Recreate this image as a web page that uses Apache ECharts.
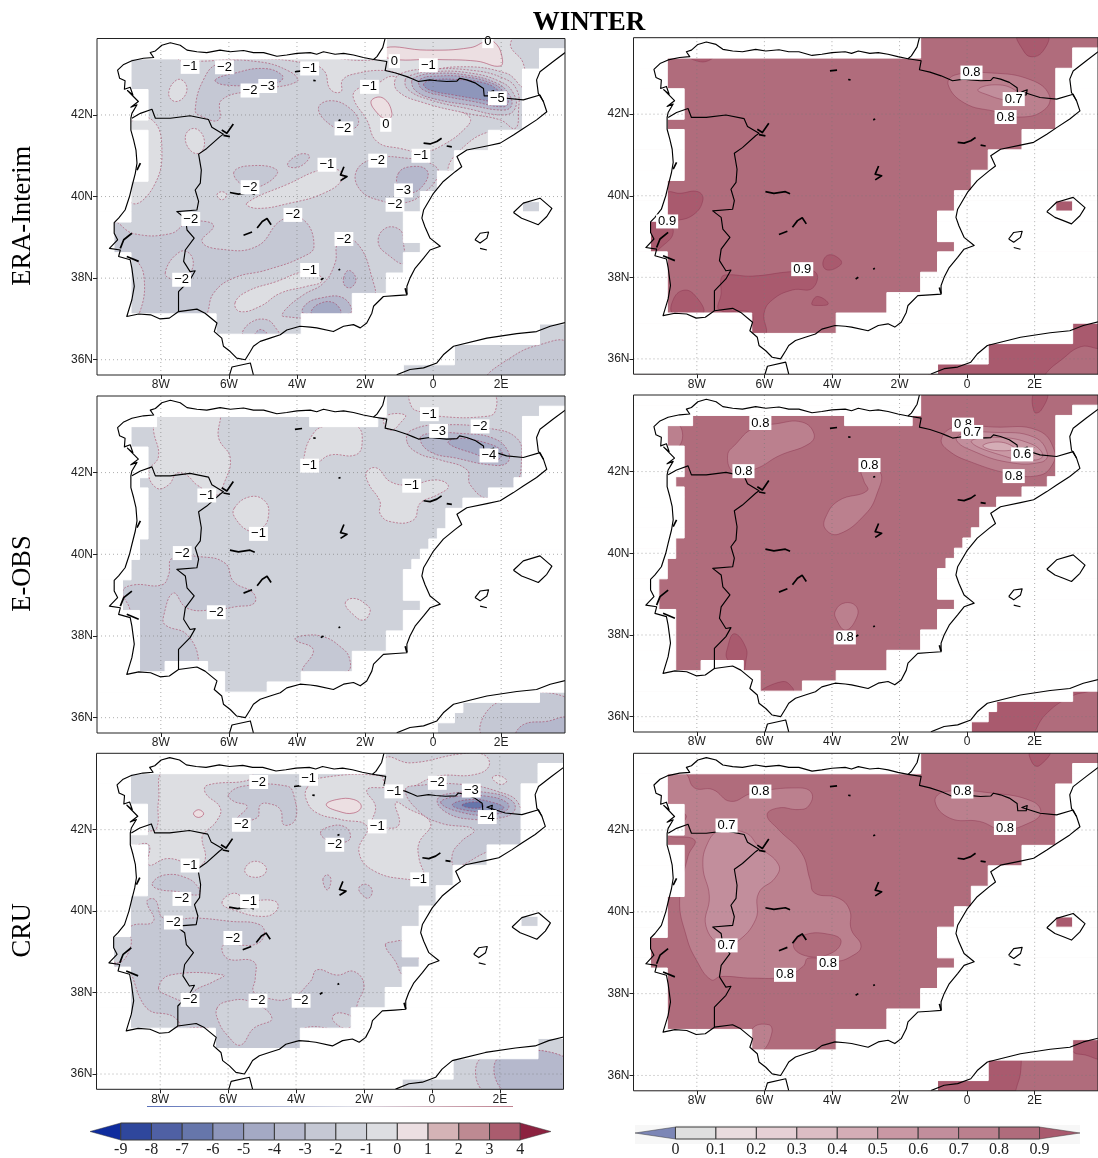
<!DOCTYPE html>
<html><head><meta charset="utf-8">
<style>html,body{margin:0;padding:0;background:#fff;overflow:hidden}#c{width:1098px;height:1158px}</style>
<script src="https://cdn.jsdelivr.net/npm/echarts@6/dist/echarts.min.js"></script></head>
<body><div id="c"></div>
<script>
const lonTicks=[-8,-6,-4,-2,0,2], lonTickLabels=['8W','6W','4W','2W','0','2E'];
const latTicks=[36,38,40,42], latTickLabels=['36N','38N','40N','42N'];
const lonRange=[-9.875,3.875], latRange=[35.625,43.875];
const tempLevels=[-9,-8,-7,-6,-5,-4,-3,-2,-1,0,1,2,3,4];
const tempColors=['#0f2c9e','#2f479c','#4f60a4','#6676ab','#8e96bb','#a4a9c4','#b5b8cc','#c5c8d4','#cfd2da','#dddee2','#ecdfe2','#d4b3b6','#bd8a92','#aa5c6e','#8c2240'];
const corrLevels=[0,0.1,0.2,0.3,0.4,0.5,0.6,0.7,0.8,0.9];
const corrColors=['#7c86b6','#dfdfdf','#e9dcde','#e6d0d5','#dcbdc4','#d4adb6','#c998a4','#c28e9c','#bb808e','#b06c7c','#a95a6e'];
const rowNames=['ERA-Interim','E-OBS','CRU'];

/* coast, borders and lakes: flat lon,lat lists */
const coastIberia=[-1.41,43.88,-1.48,43.65,-1.65,43.43,-1.75,43.36,-2.05,43.41,-2.34,43.47,-2.63,43.51,-2.88,43.49,-3.22,43.55,-3.42,43.49,-3.61,43.53,-4.00,43.51,-4.30,43.47,-4.59,43.44,-4.98,43.53,-5.28,43.53,-5.57,43.58,-5.96,43.55,-6.26,43.59,-6.65,43.53,-6.94,43.55,-7.23,43.59,-7.43,43.71,-7.72,43.77,-7.97,43.71,-8.16,43.57,-8.31,43.53,-8.21,43.41,-8.51,43.39,-8.85,43.33,-9.09,43.24,-9.27,43.10,-9.21,42.90,-9.05,42.84,-9.07,42.63,-8.90,42.68,-8.82,42.49,-8.98,42.60,-8.66,42.33,-8.88,42.19,-8.70,42.25,-8.85,42.04,-8.88,41.92,-8.88,41.63,-8.80,41.39,-8.73,41.14,-8.70,40.82,-8.75,40.57,-8.85,40.24,-8.92,40.00,-9.05,39.67,-9.24,39.47,-9.37,39.36,-9.37,39.10,-9.27,38.94,-9.51,38.73,-9.19,38.69,-9.24,38.53,-8.90,38.45,-8.85,38.24,-8.78,37.80,-8.85,37.47,-9.00,37.06,-8.65,37.12,-8.30,37.10,-8.02,37.00,-7.75,37.02,-7.48,37.18,-6.94,37.24,-6.70,37.14,-6.35,36.90,-6.43,36.69,-6.21,36.53,-6.16,36.33,-5.96,36.20,-5.77,36.04,-5.52,36.00,-5.37,36.20,-5.28,36.33,-5.08,36.45,-4.79,36.53,-4.49,36.61,-4.30,36.73,-3.91,36.82,-3.61,36.80,-3.42,36.78,-2.93,36.69,-2.63,36.82,-2.34,36.86,-2.14,36.78,-1.95,36.90,-1.80,37.14,-1.75,37.31,-1.46,37.55,-1.10,37.57,-0.77,37.59,-0.77,37.80,-0.68,38.00,-0.53,38.24,-0.28,38.49,-0.09,38.69,0.21,38.78,-0.09,38.98,-0.24,39.26,-0.33,39.47,-0.28,39.67,0.01,40.08,0.30,40.37,0.65,40.61,0.84,40.73,0.70,40.98,0.99,41.14,1.58,41.24,1.97,41.31,2.36,41.51,2.65,41.67,3.04,41.88,3.34,42.08,3.24,42.33,3.09,42.53,3.04,42.86,3.14,43.06,3.53,43.31,3.88,43.53];
const borderPyrenees=[-1.75,43.36,-1.36,43.31,-1.41,43.09,-1.10,43.03,-0.77,42.94,-0.60,42.88,-0.43,42.82,-0.10,42.86,0.11,42.84,0.40,42.82,0.70,42.83,0.78,42.90,0.99,42.86,1.25,42.78,1.48,42.65,1.50,42.47,1.75,42.47,1.78,42.60,1.62,42.55,2.16,42.41,2.65,42.37,3.14,42.49,3.24,42.33];
const borderPortugal=[-8.85,41.92,-8.60,42.04,-8.26,42.14,-8.16,41.92,-7.72,41.92,-7.14,41.98,-6.60,41.89,-6.50,41.70,-6.16,41.53,-6.26,41.47,-6.65,41.18,-6.89,41.04,-6.81,40.65,-6.84,40.33,-6.99,40.16,-6.89,39.88,-6.94,39.67,-7.53,39.63,-7.28,39.47,-7.23,39.18,-7.02,38.98,-7.28,38.69,-7.33,38.41,-7.14,38.16,-6.99,38.18,-7.14,37.96,-7.48,37.67,-7.48,37.18];
const coastMallorca=[2.36,39.61,2.65,39.84,3.14,39.96,3.49,39.71,3.34,39.51,3.09,39.31,2.85,39.39,2.60,39.47,2.36,39.61];
const coastIbiza=[1.23,38.94,1.38,39.10,1.63,39.13,1.58,38.98,1.38,38.86,1.23,38.94];
const coastFormentera=[1.38,38.73,1.58,38.69];
const coastAfrica=[-1.07,35.63,-0.68,35.76,-0.28,35.80,0.11,35.92,0.30,36.12,0.60,36.33,1.58,36.53,2.46,36.64,3.04,36.69,3.44,36.82,3.88,36.91];
const coastCeuta=[-5.98,35.63,-5.91,35.82,-5.37,35.92,-5.28,35.63];
const lakes=[[-6.21,41.63,-6.06,41.55,-5.87,41.78],[-6.16,41.50,-5.97,41.47],[-4.06,43.06,-3.85,43.08],[-3.52,42.85,-3.45,42.84],[-2.78,41.86,-2.72,41.88],[-0.28,41.31,-0.09,41.29,0.11,41.35,0.25,41.43],[0.40,41.24,0.55,41.22],[-2.62,40.73,-2.72,40.53,-2.53,40.49,-2.72,40.39],[-5.97,40.10,-5.72,40.06,-5.38,40.10,-5.24,40.05],[-5.57,39.05,-5.32,39.13],[-5.17,39.23,-5.02,39.39,-4.88,39.46,-4.76,39.31],[-3.30,37.96,-3.22,38.00],[-2.78,38.20,-2.73,38.22],[-9.19,38.73,-9.09,38.94,-8.85,39.10],[-9.00,38.53,-8.65,38.41],[-8.70,40.65,-8.60,40.82],[-0.77,37.60,-0.82,37.75]];

/* data coverage: [lat top, lat bottom, [lon from, lon to, ...]] */
const eraCruCover=[[43.875,43.625,[-1.375,3.875]],[43.625,43.375,[-1.375,3.125]],[43.375,43.125,[-8.875,3.125]],[43.125,42.625,[-8.875,2.625]],[42.625,41.875,[-8.375,2.625]],[41.875,41.625,[-8.875,2.625]],[41.625,41.125,[-8.375,1.625]],[41.125,40.625,[-8.375,0.625]],[40.625,40.375,[-8.375,0.125]],[40.375,40.125,[-8.875,0.125]],[40.125,39.875,[-8.875,-0.375]],[39.875,39.625,[-8.875,-0.375,2.625,3.125]],[39.625,39.375,[-8.875,-0.875]],[39.375,38.875,[-9.375,-0.875]],[38.875,38.625,[-9.375,-0.375]],[38.625,38.125,[-8.875,-0.875]],[38.125,37.625,[-8.875,-1.375]],[37.625,37.125,[-8.875,-2.375]],[37.125,36.875,[-6.375,-3.875]],[36.875,36.625,[-6.375,-3.875,3.125,3.875]],[36.625,36.375,[3.125,3.875]],[36.375,35.875,[0.625,3.875]],[35.875,35.625,[-0.875,3.875]]];
const eobsCover=[[43.875,43.625,[-1.375,3.875]],[43.625,43.375,[-1.375,3.125]],[43.375,43.125,[-8.125,-3.625,-1.625,2.625]],[43.125,42.625,[-8.875,2.625]],[42.625,41.875,[-8.375,2.625]],[41.875,41.625,[-8.625,2.375]],[41.625,41.375,[-8.375,1.625]],[41.375,41.125,[-8.375,0.875]],[41.125,40.625,[-8.375,0.375]],[40.625,40.375,[-8.375,0.125]],[40.375,40.125,[-8.625,-0.125]],[40.125,39.875,[-8.625,-0.375]],[39.875,39.625,[-8.875,-0.625]],[39.625,39.375,[-8.875,-0.875]],[39.375,38.875,[-9.125,-0.875]],[38.875,38.625,[-9.125,-0.375]],[38.625,38.125,[-8.625,-0.875]],[38.125,37.625,[-8.625,-1.375]],[37.625,37.375,[-8.625,-2.375]],[37.375,37.125,[-8.625,-7.875,-6.625,-2.375]],[37.125,36.875,[-6.125,-3.875]],[36.875,36.625,[-6.125,-4.875]],[36.625,36.375,[3.125,3.875]],[36.375,36.125,[0.875,3.875]],[36.125,35.875,[0.625,3.875]],[35.875,35.625,[0.125,3.875]]];

/* filled contours: [lower level, flat lon,lat outline], painted in order */
const eraTempBands=[
[-1,[-7.43,43.33,-5.18,43.38,-3.81,43.28,-3.22,43.10,-3.02,42.63,-2.71,42.57,-2.66,42.86,-2.24,43.02,-1.41,43.09,-0.77,42.98,0.70,43.18,2.16,43.02,2.65,42.69,2.65,43.26,2.28,43.67,2.28,43.95,-1.46,43.95,-1.46,43.39,-4.2,43.51,-7.43,43.51]],
[-1,[-2.24,42.63,-1.75,42.73,-1.12,42.94,-0.28,42.45,0.70,42.12,1.09,41.92,0.94,41.67,0.30,41.27,-0.28,41.10,-0.97,41.18,-1.65,41.35,-1.95,41.88,-2.34,42.41]],
[-1,[1.67,41.59,0.70,41.06,0.45,40.61,0.89,40.61,1.97,41.31]],
[-1,[-8.85,41.84,-8.26,41.88,-7.97,41.22,-8.21,40.25,-8.85,39.84,-9.2,40.8]],
[0,[-1.41,43.65,-0.19,43.59,1.09,43.65,1.58,43.81,1.82,43.77,2.02,43.44,1.97,43.20,1.28,43.32,0.11,43.36,-1.36,43.40]],
[0,[-1.80,42.37,-1.46,42.41,-1.21,42.04,-1.36,41.89,-1.75,42.16]],
[-2,[-1.12,42.86,-1.02,42.57,-0.28,42.30,0.99,42.04,1.97,41.88,2.41,41.67,2.51,42.12,2.46,42.61,2.07,42.90,1.09,43.10,-0.19,43.12,-0.87,43.04]],
[-3,[-0.82,42.86,-0.72,42.61,-0.09,42.37,0.99,42.16,2.07,42.00,2.41,42.16,2.36,42.53,1.97,42.82,0.99,43.04,-0.09,43.06,-0.63,42.98]],
[-4,[-0.63,42.82,-0.48,42.57,0.11,42.38,1.09,42.24,2.07,42.12,2.31,42.24,2.21,42.53,1.87,42.78,0.99,42.98,0.01,43.02,-0.48,42.94]],
[-5,[-0.43,42.79,-0.28,42.61,0.30,42.47,1.18,42.33,2.07,42.20,2.21,42.33,2.07,42.57,1.72,42.78,0.89,42.94,0.01,42.95,-0.33,42.90]],
[-6,[-0.28,42.76,-0.09,42.61,0.60,42.49,1.38,42.38,2.02,42.30,2.07,42.41,1.87,42.63,1.48,42.79,0.70,42.87,0.01,42.86]],
[-3,[-6.99,42.12,-6.75,42.86,-6.30,43.26,-5.18,43.31,-4.20,43.06,-4.00,42.82,-5.18,42.61,-6.21,42.37,-6.30,41.88,-6.84,41.98]],
[-4,[-6.40,42.86,-5.86,43.02,-4.98,43.14,-4.44,42.98,-4.49,42.82,-5.08,42.74,-6.16,42.74]],
[-1,[-7.77,42.53,-7.53,42.86,-7.28,42.78,-7.28,42.49,-7.58,42.33]],
[-1,[-7.28,41.47,-7.04,41.67,-6.75,41.47,-6.80,41.10,-7.09,41.10]],
[-3,[-3.37,42.16,-3.02,42.35,-2.44,42.16,-2.19,41.80,-2.53,41.63,-3.02,41.76]],
[-3,[-5.86,40.57,-5.47,40.75,-4.59,40.65,-4.88,40.33,-5.47,40.24]],
[-3,[-4.28,40.78,-3.91,41.04,-3.63,40.98,-3.96,40.72]],
[-1,[-6.35,40.04,-6.21,40.12,-6.06,40.04,-6.21,39.92]],
[-3,[-2.24,40.65,-2.14,40.16,-1.46,39.88,-0.87,39.84,-0.28,40.08,0.16,40.57,-0.09,40.82,-0.77,40.94,-1.65,40.94]],
[-4,[-1.02,40.57,-0.68,40.73,-0.19,40.65,-0.24,40.33,-0.68,40.08,-1.02,40.24]],
[-1,[-5.47,39.84,-4.20,40.33,-3.32,40.65,-2.78,40.65,-2.68,40.41,-3.22,40.08,-4.20,39.84,-5.18,39.71]],
[-3,[-9.37,39.35,-8.80,39.09,-7.72,39.09,-7.23,39.35,-6.70,39.39,-6.45,39.27,-6.79,38.90,-6.26,38.71,-5.18,38.78,-4.44,39.43,-3.81,39.43,-3.50,38.78,-3.81,38.53,-4.89,38.20,-5.86,38.00,-6.45,37.63,-6.70,37.06,-7.14,36.90,-9.00,36.90,-9.49,38.45]],
[-2,[-7.87,38.12,-7.43,38.65,-7.09,38.53,-7.14,38.12,-7.53,37.96]],
[-2,[-8.88,38.45,-8.51,38.12,-8.65,37.10,-9.00,37.06]],
[-1,[-5.82,37.39,-5.47,37.67,-4.59,37.92,-3.81,38.16,-3.42,38.12,-3.27,37.92,-3.71,37.80,-4.49,37.63,-5.08,37.31,-5.67,37.18]],
[-3,[-2.78,38.86,-2.24,38.86,-1.75,37.88,-1.75,37.55,-2.34,37.31,-2.44,37.06,-4.40,37.06,-4.35,37.22,-3.81,37.59,-3.22,37.88,-2.88,38.37]],
[-4,[-3.81,37.14,-3.76,37.34,-3.32,37.51,-2.63,37.51,-2.44,37.14]],
[-5,[-3.56,37.12,-3.42,37.34,-2.93,37.40,-2.73,37.12]],
[-4,[-2.63,38.00,-2.48,38.19,-2.27,38.00,-2.39,37.78,-2.58,37.80]],
[-3,[-5.57,36.61,-5.38,36.90,-4.89,36.98,-4.59,36.74,-4.54,36.61]],
[-4,[-5.23,36.61,-5.08,36.74,-4.89,36.64]],
[-3,[-1.61,38.86,-1.41,39.22,-0.97,39.18,-0.87,38.86,-0.87,38.37,-1.26,38.53]],
[-3,[1.63,35.55,2.26,36.04,3.14,36.37,3.95,36.41,3.95,35.55]]];
const eraCorrBands=[
[0.7,[-0.56,42.72,-0.36,42.96,0.72,43.01,1.89,42.84,2.43,42.47,2.29,42.11,1.60,41.93,0.81,42.07,-0.07,42.27]],
[0.6,[0.32,42.60,0.81,42.72,1.40,42.60,1.65,42.31,1.11,42.35,0.62,42.47]],
[0.9,[1.50,43.95,2.38,43.95,2.24,43.54,1.89,43.41,1.65,43.58]],
[0.9,[-8.21,43.40,-7.53,43.40,-7.82,43.28]],
[0.9,[-8.88,40.06,-8.50,40.06,-7.97,40.10,-7.82,39.90,-8.11,39.53,-8.70,39.37,-8.90,39.33]],
[0.9,[-9.40,39.37,-8.90,39.37,-8.70,39.10,-9.00,38.78,-9.40,38.60]],
[0.9,[-8.70,37.45,-8.41,37.68,-8.07,37.57,-7.82,37.12,-8.70,37.12]],
[0.9,[-7.28,37.98,-7.13,38.06,-6.35,38.03,-5.17,38.14,-4.48,38.12,-4.58,37.73,-5.17,37.69,-5.76,37.45,-6.01,37.12,-5.96,36.60,-6.35,36.60,-6.40,37.12,-7.33,37.20,-7.28,37.61]],
[0.9,[-4.27,38.35,-4.09,38.55,-3.75,38.43,-3.75,38.30,-4.14,38.18]],
[0.9,[-4.60,37.35,-4.43,37.53,-4.11,37.35,-4.48,37.31]],
[0.9,[2.50,40.00,3.30,40.00,3.30,39.50,2.50,39.50]],
[0.9,[-1.00,35.50,-1.00,36.00,0.50,36.50,3.20,37.00,4.00,37.00,4.00,36.30,3.37,36.30,2.78,35.97,2.34,35.65,2.30,35.50]]];
const eobsTempBands=[
[-1,[-8.14,43.50,-6.35,43.50,-6.30,42.84,-5.96,42.35,-6.16,41.70,-6.35,41.45,-6.94,41.70,-7.23,41.93,-7.53,41.98,-7.77,41.70,-8.12,41.62,-8.36,42.02,-8.07,42.39,-8.21,43.00,-8.21,43.13]],
[-1,[-3.81,42.31,-3.61,42.84,-3.22,43.13,-2.24,43.13,-2.09,42.68,-2.29,42.43,-3.02,42.43,-3.42,42.23,-3.81,42.11]],
[-1,[-1.95,42.02,-1.65,42.11,-1.26,41.78,-0.68,41.70,0.11,41.82,0.45,41.66,0.11,41.45,-0.38,41.25,-0.58,40.84,-1.26,40.80,-1.56,41.00,-1.56,41.29,-1.90,41.74]],
[-1,[-5.84,41.13,-5.37,41.41,-4.93,41.29,-4.84,40.92,-5.03,40.64,-5.37,40.56,-5.81,40.88]],
[-1,[-2.58,38.80,-2.34,38.92,-1.95,38.76,-1.85,38.60,-2.05,38.39,-2.34,38.52]],
[-1,[-0.63,43.95,1.72,43.95,1.82,43.49,1.48,43.37,0.30,43.37,-0.38,43.49,-0.63,43.61]],
[-1,[-1.41,43.38,-0.82,43.41,-0.97,43.21,-1.21,43.04,-1.41,43.13]],
[-3,[-0.77,42.76,-0.63,43.04,0.30,43.17,1.67,43.08,2.46,42.84,2.60,42.35,2.38,41.66,1.63,41.37,1.09,41.70,0.99,42.07,0.21,42.31,-0.43,42.47]],
[-4,[-0.38,42.84,-0.09,42.96,0.79,42.96,1.77,42.84,2.21,42.51,2.16,42.23,1.67,42.19,0.70,42.35,-0.09,42.51]],
[-5,[0.45,42.72,0.70,42.84,1.58,42.72,2.02,42.51,1.87,42.31,1.18,42.47]],
[-3,[-9.12,39.09,-8.80,39.25,-7.97,39.25,-7.77,39.50,-7.67,39.90,-6.84,39.94,-6.11,39.78,-5.86,39.33,-5.28,39.05,-5.26,38.80,-5.77,38.72,-6.45,38.64,-7.23,38.68,-7.63,39.05,-7.92,38.48,-7.87,38.27,-7.23,38.03,-6.89,37.38,-7.14,37.17,-8.90,37.13,-8.90,38.60]],
[-3,[-4.05,37.91,-3.81,38.01,-3.22,37.98,-2.73,37.74,-2.46,37.46,-2.53,37.13,-3.81,37.13,-3.52,37.66]],
[-3,[1.48,35.55,1.87,36.36,3.95,36.48,3.95,35.55]],
[-4,[2.46,35.55,2.65,35.83,3.34,35.91,3.95,35.99,3.95,35.55]]];
const eobsCorrBands=[
[0.7,[-7.09,42.39,-6.84,42.68,-6.35,43.05,-5.66,43.17,-4.88,43.21,-4.53,42.92,-4.68,42.68,-5.56,42.39,-6.25,42.07,-6.89,41.98]],
[0.7,[-3.11,42.02,-2.57,41.98,-2.67,41.45,-3.01,40.96,-3.80,40.47,-4.19,40.59,-4.19,40.88,-3.80,41.29,-2.96,41.53,-3.06,41.78]],
[0.7,[-3.90,38.59,-3.60,38.79,-3.26,38.67,-3.31,38.35,-3.60,38.12,-3.85,38.35]],
[0.7,[-0.76,42.80,-0.36,43.09,0.81,43.09,2.09,43.01,2.58,42.52,2.48,42.11,2.09,41.90,1.31,41.94,0.13,42.23,-0.56,42.52]],
[0.6,[-0.31,42.76,-0.17,42.92,0.81,42.96,1.99,42.84,2.38,42.43,2.19,42.23,1.21,42.23,0.13,42.52]],
[0.5,[0.13,42.72,0.81,42.84,1.89,42.68,2.24,42.39,1.89,42.27,1.21,42.35]],
[0.4,[0.47,42.64,1.01,42.72,1.40,42.56,0.81,42.52]],
[0.9,[1.99,43.95,2.38,43.95,2.19,43.50,1.99,43.46]],
[0.9,[-7.09,37.69,-6.89,38.03,-6.55,37.69,-6.55,37.36,-6.65,37.12,-7.09,37.40]],
[0.9,[-6.10,36.60,-5.46,36.86,-5.17,36.71,-5.17,36.60]],
[0.7,[-9.00,43.17,-8.51,43.13,-8.51,42.64,-9.00,42.64]],
[0.9,[0.10,35.50,0.10,36.60,4.00,37.00,3.71,36.67,3.12,36.51,2.38,36.10,1.99,35.61,1.99,35.50]]];
const cruTempBands=[
[-1,[-7.85,43.45,-5.35,43.45,-5.35,43.23,-6.62,43.09,-6.67,42.90,-6.23,42.53,-6.35,42.20,-6.67,41.94,-6.77,41.80,-6.67,41.30,-6.87,41.10,-7.21,41.18,-7.80,41.29,-8.34,41.14,-8.34,41.63,-8.88,41.63,-8.88,41.88,-8.34,41.96,-8.10,42.04,-8.05,42.70]],
[-3,[-5.99,42.86,-5.54,43.07,-4.27,43.07,-4.07,42.86,-4.02,42.25,-4.36,42.12,-4.46,42.49,-4.76,42.63,-5.05,42.61,-5.15,42.29,-5.74,42.25,-5.44,42.57,-5.84,42.70]],
[-1,[-3.68,43.02,-3.28,43.27,-1.37,43.31,-1.32,43.07,-1.91,42.98,-1.66,42.57,-1.76,42.12,-1.42,42.04,-0.97,42.12,-1.07,42.66,-0.73,42.53,-0.04,42.16,-0.38,41.67,-0.38,41.30,-0.24,40.81,-0.63,40.77,-1.71,40.99,-2.15,41.47,-1.91,42.08,-2.69,42.25,-3.38,42.41,-3.68,42.70]],
[-1,[-1.37,43.76,-0.63,43.64,0.85,43.86,1.53,43.84,1.68,43.56,1.24,43.35,0.16,43.31,-0.63,43.02,-0.83,42.94,-1.37,43.11]],
[0,[-3.11,42.61,-2.80,42.74,-2.30,42.74,-2.08,42.57,-2.30,42.41,-2.74,42.45]],
[0,[-7.02,42.39,-6.87,42.49,-6.72,42.39,-6.87,42.30]],
[-1,[1.78,43.27,1.97,43.33,2.20,43.20,2.03,43.11]],
[-3,[-3.28,41.92,-2.99,42.08,-2.59,42.08,-2.40,41.88,-2.50,41.71,-2.99,41.71]],
[-1,[-5.51,41.02,-5.25,41.22,-4.90,41.10,-4.95,40.89,-5.35,40.85]],
[-1,[-6.18,40.20,-5.84,40.44,-5.44,40.28,-4.61,40.24,-4.56,40.03,-4.95,39.87,-5.84,40.03]],
[-3,[-3.21,40.77,-3.08,40.89,-2.97,40.77,-3.08,40.52]],
[-3,[-2.15,40.57,-1.95,40.66,-1.76,40.52,-1.86,40.32,-2.05,40.40]],
[-3,[-8.23,40.69,-7.85,40.89,-7.21,40.81,-6.87,40.57,-6.87,40.40,-7.51,40.48,-8.10,40.55]],
[-3,[-9.36,39.09,-8.88,39.62,-8.20,39.75,-8.39,40.24,-8.15,40.28,-7.90,39.83,-6.92,39.83,-5.94,39.75,-5.05,39.66,-4.95,39.38,-5.25,39.17,-6.13,39.17,-6.03,38.84,-5.25,38.76,-5.20,38.35,-5.25,38.02,-4.85,37.86,-4.17,37.86,-3.58,38.27,-3.38,38.56,-2.79,38.43,-2.30,38.52,-2.00,38.19,-2.20,37.70,-2.30,37.12,-3.77,37.12,-3.87,36.63,-6.43,36.63,-6.53,37.12,-8.98,37.04,-9.28,38.43,-9.36,39.01]],
[-2,[-8.88,38.43,-8.39,37.61,-7.61,37.41,-7.46,37.16,-8.88,37.04]],
[-2,[-9.36,39.38,-8.88,39.38,-9.03,38.84,-9.36,38.76]],
[-2,[-8.05,38.11,-7.70,38.43,-6.13,38.43,-6.43,38.27,-7.02,38.02,-7.12,37.78,-7.80,37.94]],
[-2,[-6.33,37.61,-6.03,37.78,-5.35,37.78,-4.71,37.37,-5.25,37.12,-5.64,36.71,-6.03,36.96,-6.28,37.29]],
[-2,[-2.89,37.45,-2.60,37.49,-2.30,37.33,-2.49,37.12,-2.89,37.29]],
[-3,[-1.37,39.17,-1.12,39.25,-0.83,39.25,-0.38,38.84,-0.38,38.60,-0.83,38.43,-1.07,38.76]],
[-3,[-0.78,42.98,-0.33,43.09,0.75,43.12,1.93,42.94,2.57,42.61,2.64,41.67,1.68,41.47,0.70,41.10,0.60,41.39,0.85,41.70,1.24,42.00,0.26,42.16,-0.38,42.45]],
[-4,[0.16,42.74,0.65,42.90,1.73,42.90,2.37,42.70,2.42,42.45,2.02,42.29,1.24,42.25,0.45,42.41]],
[-5,[0.26,42.66,0.75,42.82,1.63,42.82,2.22,42.66,2.22,42.49,1.73,42.37,0.94,42.41]],
[-6,[0.60,42.61,1.14,42.74,1.83,42.66,2.12,42.53,1.73,42.45,1.04,42.47]],
[-7,[0.89,42.61,1.34,42.68,1.53,42.57,1.14,42.53]],
[-3,[1.58,35.55,1.48,36.40,3.95,36.40,3.95,35.55]],
[-4,[2.17,35.55,1.97,36.40,3.95,36.40,3.95,35.55]]];
const cruCorrBands=[
[0.7,[-8.36,43.40,-8.07,43.03,-7.53,42.99,-7.00,42.70,-6.36,42.90,-5.00,43.03,-4.60,42.90,-4.70,42.58,-5.00,42.50,-5.58,42.54,-5.92,42.37,-5.58,42.01,-4.90,41.44,-4.65,40.79,-4.51,40.46,-3.82,40.34,-3.48,40.05,-3.43,39.57,-3.14,39.16,-3.43,38.91,-3.92,38.79,-4.70,38.87,-4.85,38.67,-5.39,38.42,-6.36,38.38,-7.29,38.42,-7.58,38.34,-8.02,38.83,-8.31,39.40,-8.51,40.30,-8.26,41.36,-8.07,41.76,-8.85,41.89,-8.31,42.33,-8.88,42.62,-8.88,43.40]],
[0.6,[-7.82,41.11,-7.68,41.68,-7.34,41.97,-6.56,41.93,-6.17,41.60,-5.58,41.15,-5.68,40.83,-6.17,40.46,-6.26,39.81,-6.85,39.24,-7.24,39.16,-7.73,39.65,-7.63,40.38]],
[0.8,[-5.14,39.16,-4.80,39.44,-4.02,39.44,-3.73,39.28,-4.02,38.99,-4.70,38.91]],
[0.7,[-0.95,42.70,-0.65,42.94,0.76,42.90,1.93,42.70,2.18,42.42,1.83,42.17,1.05,42.01,0.37,42.21,-0.51,42.29]],
[0.9,[1.88,43.95,2.47,43.95,2.13,43.57,1.93,43.64]],
[0.7,[-6.36,37.14,-5.87,37.24,-5.78,37.04,-6.07,36.59,-6.41,36.59]],
[0.9,[2.50,40.00,3.30,40.00,3.30,39.50,2.50,39.50]],
[0.9,[-1.00,35.50,-1.00,36.00,0.50,36.50,1.50,36.50,1.59,36.15,1.44,35.63,1.40,35.50]],
[0.9,[3.10,37.00,4.00,37.00,4.00,36.43,3.50,36.50,3.12,36.60]]];

/* contour labels: [lon, lat, text] */
const eraTempLabels=[[-7.14,43.18,'−1'],[-6.13,43.17,'−2'],[-3.63,43.14,'−1'],[-4.86,42.71,'−3'],[-5.38,42.60,'−2'],[-1.87,42.69,'−1'],[-1.14,43.32,'0'],[-0.14,43.22,'−1'],[1.61,43.81,'0'],[-1.39,41.76,'0'],[-2.62,41.67,'−2'],[1.89,42.41,'−5'],[-0.36,41.00,'−1'],[-3.12,40.78,'−1'],[-1.63,40.88,'−2'],[-5.38,40.23,'−2'],[-0.87,40.15,'−3'],[-1.12,39.80,'−2'],[-7.12,39.45,'−2'],[-4.12,39.55,'−2'],[-2.62,38.96,'−2'],[-3.63,38.20,'−1'],[-7.39,37.96,'−2']];
const eraCorrLabels=[[0.13,43.02,'0.8'],[1.38,42.37,'0.7'],[1.14,41.93,'0.8'],[-8.88,39.37,'0.9'],[-4.88,38.20,'0.9']];
const eobsTempLabels=[[-0.11,43.43,'−1'],[1.38,43.13,'−2'],[0.16,43.02,'−3'],[1.64,42.42,'−4'],[-3.63,42.17,'−1'],[-0.63,41.68,'−1'],[-6.65,41.44,'−1'],[-5.13,40.50,'−1'],[-7.37,40.03,'−2'],[-6.37,38.58,'−2']];
const eobsCorrLabels=[[-6.12,43.19,'0.8'],[-6.62,42.01,'0.8'],[-2.89,42.16,'0.8'],[-0.12,43.15,'0.8'],[0.15,42.97,'0.7'],[1.63,42.42,'0.6'],[1.38,41.89,'0.8'],[-3.62,37.94,'0.8']];
const cruTempLabels=[[-3.63,43.25,'−1'],[-5.10,43.17,'−2'],[0.16,43.15,'−2'],[1.16,42.96,'−3'],[-1.12,42.94,'−1'],[1.63,42.31,'−4'],[-5.61,42.12,'−2'],[-1.61,42.08,'−1'],[-2.86,41.63,'−2'],[-7.12,41.12,'−1'],[-0.36,40.78,'−1'],[-7.36,40.30,'−2'],[-5.37,40.24,'−1'],[-7.61,39.72,'−2'],[-5.86,39.34,'−2'],[-7.12,37.82,'−2'],[-5.12,37.80,'−2'],[-3.85,37.80,'−2']];
const cruCorrLabels=[[-6.12,42.94,'0.8'],[-7.12,42.11,'0.7'],[-7.12,39.18,'0.7'],[-4.12,38.75,'0.8'],[-5.39,38.46,'0.8'],[-0.14,42.94,'0.8'],[1.12,42.05,'0.8']];

const tempColor=lo=>tempColors[lo+10];
const corrColor=lo=>corrColors[Math.round(lo*10)+1];
const pairs=f=>{const o=[];for(let i=0;i<f.length;i+=2)o.push([f[i],f[i+1]]);return o;};

const panels=[
 {g:[97,38.5,468,336.5],row:0,kind:'t',bands:eraTempBands,labels:eraTempLabels,cover:eraCruCover},
 {g:[633.5,37.7,467.5,336.5],row:0,kind:'c',bands:eraCorrBands,labels:eraCorrLabels,cover:eraCruCover},
 {g:[97,396,468,337],row:1,kind:'t',bands:eobsTempBands,labels:eobsTempLabels,cover:eobsCover},
 {g:[633.5,395,467.5,337],row:1,kind:'c',bands:eobsCorrBands,labels:eobsCorrLabels,cover:eobsCover},
 {g:[96.5,753.3,467,336],row:2,kind:'t',bands:cruTempBands,labels:cruTempLabels,cover:eraCruCover},
 {g:[633.5,753.3,470,337.5],row:2,kind:'c',bands:cruCorrBands,labels:cruCorrLabels,cover:eraCruCover}];

const lineSegs=[coastIberia,borderPyrenees,borderPortugal,coastMallorca,coastIbiza,coastFormentera,coastAfrica,coastCeuta];
const axisFont={fontFamily:'Liberation Sans',fontSize:12,color:'#222'};
const grids=[],xAxes=[],yAxes=[],series=[];
panels.forEach((p,i)=>{
 grids.push({left:p.g[0],top:p.g[1],width:p.g[2],height:p.g[3],show:true,backgroundColor:p.kind==='t'?tempColor(-2):corrColor(0.8),borderWidth:0});
 xAxes.push({type:'value',gridIndex:i,min:lonRange[0],max:lonRange[1],splitLine:{show:false},
  axisLine:{show:false,onZero:false},axisTick:{show:true,customValues:lonTicks,length:4,lineStyle:{color:'#222'}},
  axisLabel:{...axisFont,margin:4,customValues:lonTicks,formatter:v=>lonTickLabels[lonTicks.indexOf(v)]}});
 yAxes.push({type:'value',gridIndex:i,min:latRange[0],max:latRange[1],splitLine:{show:false},
  axisLine:{show:false,onZero:false},axisTick:{show:true,customValues:latTicks,length:4,lineStyle:{color:'#222'}},
  axisLabel:{...axisFont,margin:4,customValues:latTicks,formatter:v=>latTickLabels[latTicks.indexOf(v)]},
  ...(p.kind==='t'?{name:rowNames[p.row],nameLocation:'middle',nameRotate:90,nameGap:60,nameTextStyle:{fontFamily:'Liberation Serif',fontSize:26.5,color:'#000',padding:[0,18,0,0]}}:{})});
 const base={type:'custom',xAxisIndex:i,yAxisIndex:i,animation:false,silent:true};
 // filled contours
 series.push({...base,clip:true,z:2,data:p.bands.map((b,k)=>[b[1][0],b[1][1],k]),encode:{x:0,y:1},
  renderItem:(_,api)=>{const b=p.bands[api.value(2)];
   const pts=pairs(b[1]).map(q=>api.coord(q));
   const solid=p.kind==='c'||b[0]>=0;
   return {type:'polygon',shape:{points:pts,smooth:0.45},style:{fill:p.kind==='t'?tempColor(b[0]):corrColor(b[0]),
     stroke:p.kind==='t'?'rgba(165,50,85,0.75)':'rgba(135,45,75,0.6)',lineWidth:0.7,lineDash:solid?null:[2,1.5]}};}});
 // cells without data are blanked
 const blanks=[];p.cover.forEach(r=>{let from=lonRange[0];for(let k=0;k<r[2].length;k+=2){if(r[2][k]>from)blanks.push([from,r[2][k],r[0],r[1]]);from=r[2][k+1];}
  if(from<lonRange[1])blanks.push([from,lonRange[1],r[0],r[1]]);});
 series.push({...base,clip:true,z:3,data:blanks,encode:{x:0,y:2},
  renderItem:(_,api)=>{const a=api.coord([api.value(0),api.value(2)]),c=api.coord([api.value(1),api.value(3)]);
   return {type:'rect',shape:{x:a[0],y:a[1],width:c[0]-a[0],height:c[1]-a[1]},style:{fill:'#fff',stroke:'#fff',lineWidth:1}};}});
 // graticule
 const grat=[...lonTicks.map(v=>[v,latRange[0],v,latRange[1]]),...latTicks.map(v=>[lonRange[0],v,lonRange[1],v])];
 series.push({...base,clip:true,z:4,data:grat,encode:{x:0,y:1},
  renderItem:(_,api)=>{const a=api.coord([api.value(0),api.value(1)]),c=api.coord([api.value(2),api.value(3)]);
   return {type:'line',shape:{x1:a[0],y1:a[1],x2:c[0],y2:c[1]},style:{stroke:'rgba(120,120,120,0.6)',lineWidth:1,lineDash:[1,3]}};}});
 // coast, borders, lakes
 const segs=[...lineSegs.map(s=>[s,1.15]),...lakes.map(s=>[s,1.7])];
 series.push({...base,clip:true,z:5,data:segs.map((s,k)=>[s[0][0],s[0][1],k]),encode:{x:0,y:1},
  renderItem:(_,api)=>{const s=segs[api.value(2)];
   return {type:'polyline',shape:{points:pairs(s[0]).map(q=>api.coord(q))},style:{fill:null,stroke:'#000',lineWidth:s[1],lineJoin:'round'}};}});
 // contour labels
 series.push({...base,clip:false,z:6,data:p.labels.map((l,k)=>[l[0],l[1],k]),encode:{x:0,y:1},
  renderItem:(_,api)=>{const l=p.labels[api.value(2)],c=api.coord([l[0],l[1]]);
   return {type:'text',style:{text:l[2],x:c[0],y:c[1],fill:'#000',font:'13px "Liberation Sans"',align:'center',verticalAlign:'middle',backgroundColor:'#fff',padding:[1,2,0,2]}};}});
 // frame
 series.push({...base,clip:false,z:7,data:[[lonRange[0],latRange[0],lonRange[1],latRange[1]]],encode:{x:0,y:1},
  renderItem:(_,api)=>{const a=api.coord([api.value(0),api.value(3)]),c=api.coord([api.value(2),api.value(1)]);
   return {type:'rect',shape:{x:a[0],y:a[1],width:c[0]-a[0],height:c[1]-a[1]},style:{fill:null,stroke:'#222',lineWidth:1}};}});
});

function colorbar(idx,g,levels,colors,lo,hi,labelFont,margin,fmt){
 grids.push({left:g[0],top:g[1],width:g[2],height:g[3]});
 xAxes.push({type:'value',gridIndex:idx,min:lo,max:hi,splitLine:{show:false},axisLine:{show:false,onZero:false},axisTick:{show:false},
  axisLabel:{fontFamily:'Liberation Serif',fontSize:labelFont,color:'#222',margin,customValues:levels,formatter:fmt}});
 yAxes.push({type:'value',gridIndex:idx,min:0,max:1,show:false});
 series.push({type:'custom',xAxisIndex:idx,yAxisIndex:idx,animation:false,silent:true,clip:false,z:3,
  data:colors.map((c,k)=>[k===0?lo:levels[k-1],k]),encode:{x:0},
  renderItem:(_,api)=>{const k=api.value(1),n=colors.length;
   const st={fill:colors[k],stroke:'#3a3a3a',lineWidth:1};
   if(k===0||k===n-1){const tip=api.coord([k===0?lo:hi,0.5]),e=k===0?levels[0]:levels[n-2];
    return {type:'polygon',shape:{points:[tip,api.coord([e,1]),api.coord([e,0])]},style:{...st,lineWidth:0.5}};}
   const a=api.coord([levels[k-1],1]),c=api.coord([levels[k],0]);
   return {type:'rect',shape:{x:a[0],y:a[1],width:c[0]-a[0],height:c[1]-a[1]},style:st};}});
}
colorbar(6,[90,1123,461,17],tempLevels,tempColors,-10,5,16,2,v=>String(v));
colorbar(7,[635,1127,445,14],corrLevels,corrColors,-0.1,1.0,16,3,v=>String(+v.toFixed(1)));

const chart=echarts.init(document.getElementById('c'),null,{renderer:'canvas'});
chart.setOption({animation:false,backgroundColor:'#fff',
 title:{text:'WINTER',left:584,top:5,textAlign:'center',textStyle:{fontFamily:'Liberation Serif',fontWeight:'bold',fontSize:27,color:'#000'}},
 graphic:[{type:'rect',z:-1,silent:true,shape:{x:147,y:1106,width:366,height:1},style:{fill:new echarts.graphic.LinearGradient(0,0,1,0,[{offset:0,color:'#5a70b8'},{offset:0.55,color:'#dcdce6'},{offset:1,color:'#c0808e'}])}},
  {type:'rect',z:-1,silent:true,shape:{x:635,y:1125,width:445,height:19},style:{fill:'#f7f7f7'}}],
 grid:grids,xAxis:xAxes,yAxis:yAxes,series});
</script></body></html>
